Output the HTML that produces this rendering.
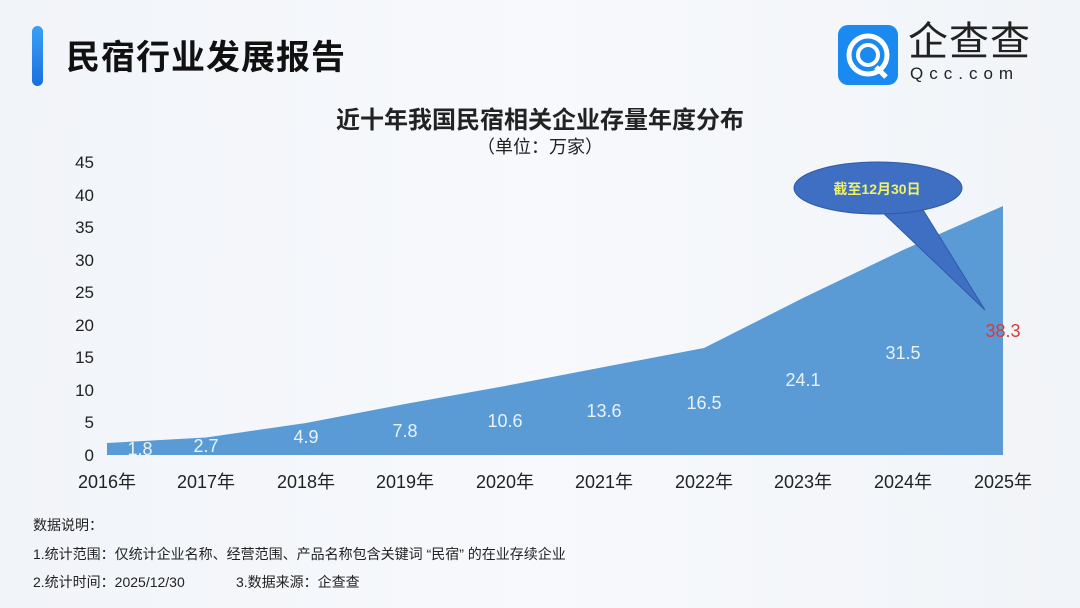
<!DOCTYPE html><html><head><meta charset="utf-8"><style>
body{margin:0;width:1080px;height:608px;overflow:hidden;background:linear-gradient(90deg,#f1f4f9,#f7f9fc 50%,#f1f4f8);font-family:"Liberation Sans","Noto Sans CJK SC",sans-serif;position:relative}
.a{position:absolute;white-space:nowrap}
</style></head><body>
<div class="a" style="left:32px;top:26px;width:11px;height:60px;border-radius:6px;background:linear-gradient(#3aa0f5,#1a6fe0)"></div>
<div class="a" style="left:66px;top:30px;font-size:34px;font-weight:bold;color:#111;letter-spacing:1px">民宿行业发展报告</div>
<div class="a" style="left:838px;top:25px;width:60px;height:60px;border-radius:10px;background:#1a8af0"></div>
<svg class="a" style="left:838px;top:25px" width="60" height="60"><circle cx="30" cy="30" r="19" fill="none" stroke="#fff" stroke-width="5"/><circle cx="30" cy="30" r="10" fill="none" stroke="#fff" stroke-width="4"/><path d="M38 42 L48 52" stroke="#fff" stroke-width="5"/></svg>
<div class="a" style="left:908px;top:20px;font-size:40px;line-height:44px;color:#222;letter-spacing:1px">企查查</div>
<div class="a" style="left:910px;top:64px;font-size:17px;line-height:20px;color:#222;letter-spacing:6px">Qcc.com</div>
<div class="a" style="left:0;width:1080px;text-align:center;top:100px;font-size:24px;font-weight:bold;color:#222">近十年我国民宿相关企业存量年度分布</div>
<div class="a" style="left:0;width:1080px;text-align:center;top:133px;font-size:18px;color:#222">（单位：万家）</div>
<svg class="a" style="left:0;top:0" width="1080" height="608" font-family="Liberation Sans,Noto Sans CJK SC,sans-serif">
<g font-size="17" fill="#222" text-anchor="end">
<text x="94" y="168">45</text><text x="94" y="201">40</text><text x="94" y="233">35</text><text x="94" y="266">30</text><text x="94" y="298">25</text><text x="94" y="331">20</text><text x="94" y="363">15</text><text x="94" y="396">10</text><text x="94" y="428">5</text><text x="94" y="461">0</text></g>
<polygon fill="#5b9bd5" points="107,455 107,443 206,437.5 306,423 405,404 505,386 604,367 704,348 803,298 903,250 1003,206 1003,455"/>
<g font-size="18" fill="#e8f2fc" text-anchor="middle">
<text x="140" y="455">1.8</text><text x="206" y="452">2.7</text><text x="306" y="443">4.9</text><text x="405" y="437">7.8</text><text x="505" y="427">10.6</text><text x="604" y="417">13.6</text><text x="704" y="409">16.5</text><text x="803" y="386">24.1</text><text x="903" y="359">31.5</text></g>
<text x="1003" y="337" font-size="18" fill="#d9383a" text-anchor="middle">38.3</text>
<path d="M880 210 L985 310 L920 205 Z" fill="#3e6fc3" stroke="#2f5aa8"/>
<ellipse cx="878" cy="188" rx="84" ry="26" fill="#3e6fc3" stroke="#2f5aa8"/>
<text x="877" y="194" font-size="14" font-weight="bold" fill="#eef36a" text-anchor="middle">截至12月30日</text>
<g font-size="18" fill="#222" text-anchor="middle">
<text x="107" y="488">2016年</text><text x="206" y="488">2017年</text><text x="306" y="488">2018年</text><text x="405" y="488">2019年</text><text x="505" y="488">2020年</text><text x="604" y="488">2021年</text><text x="704" y="488">2022年</text><text x="803" y="488">2023年</text><text x="903" y="488">2024年</text><text x="1003" y="488">2025年</text></g>
<g font-size="14" fill="#222">
<text x="33" y="530">数据说明：</text>
<text x="33" y="559">1.统计范围：仅统计企业名称、经营范围、产品名称包含关键词 “民宿” 的在业存续企业</text>
<text x="33" y="587">2.统计时间：2025/12/30</text>
<text x="236" y="587">3.数据来源：企查查</text></g>
</svg>
</body></html>
